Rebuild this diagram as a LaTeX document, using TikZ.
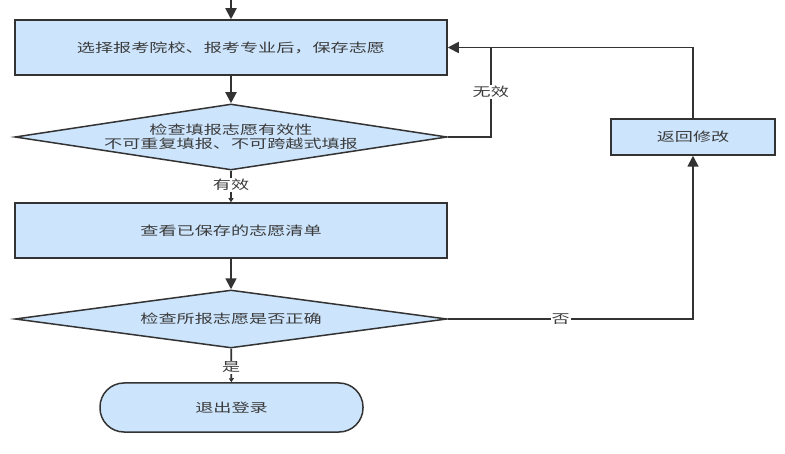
\documentclass[tikz,border=0pt]{standalone}
\usepackage{fontspec}
\newfontfamily\cjk[FakeStretch=1.45]{Noto Sans CJK SC}
\usetikzlibrary{arrows.meta,shapes.geometric,calc}
\definecolor{boxfill}{RGB}{204,228,252}
\definecolor{edge}{RGB}{51,51,51}
\definecolor{txt}{RGB}{60,60,60}
\begin{document}
\begin{tikzpicture}[x=1pt,y=-1pt,
  every node/.style={font=\cjk\fontsize{12.5pt}{14pt}\selectfont, text=txt},
  procbox/.style={draw=edge, line width=1.5pt, fill=boxfill, rectangle, inner sep=0pt},
  decis/.style={draw=edge, line width=1.5pt, fill=boxfill, diamond, inner sep=0pt, shape aspect=6},
  termbox/.style={draw=edge, line width=1.5pt, fill=boxfill, rectangle, rounded corners=24pt, inner sep=0pt},
  arr/.style={draw=edge, line width=1.8pt, -{Triangle[length=11pt,width=11pt]}},
  thin/.style={draw=edge, line width=1.8pt},
  smallarr/.style={draw=edge, line width=1.8pt, -{Triangle[length=4pt,width=5pt]}},
  lab/.style={fill=white, inner sep=1pt}]
\useasboundingbox (0,0) rectangle (785,454);
\coordinate (top) at (231,0);
\node[procbox, minimum width=432pt, minimum height=55pt] (b1) at (231,47.5) {选择报考院校、报考专业后，保存志愿};
\node[decis, minimum width=432pt, minimum height=66pt, label={[align=center, text=txt]center:检查填报志愿有效性\\不可重复填报、不可跨越式填报}] (d1) at (231,137) {};
\node[procbox, minimum width=432pt, minimum height=55pt] (b2) at (231,230.5) {查看已保存的志愿清单};
\node[decis, minimum width=432pt, minimum height=58pt, label={[text=txt]center:检查所报志愿是否正确}] (d2) at (231,319) {};
\node[termbox, minimum width=263pt, minimum height=49pt] (t) at (231.5,407.5) {退出登录};
\node[procbox, minimum width=164pt, minimum height=36pt] (r) at (693,137) {返回修改};
\path (d1.east) ++(43,0) coordinate (jb);
\coordinate (jt) at (jb |- b1.east);
\draw[arr] (top) -- (b1);
\draw[arr] (b1) -- (d1);
\draw[smallarr] (d1) -- node[lab, pos=0.45]{有效} (b2);
\draw[arr] (b2) -- (d2);
\draw[smallarr] (d2) -- node[lab, pos=0.55]{是} (t);
\draw[thin] (d1.east) -| node[lab, pos=0.75]{无效} (jt);
\draw[arr] (d2.east) -| node[lab, pos=0.23]{否} (r.south);
\draw[arr] (r.north) |- (b1.east);
\end{tikzpicture}
\end{document}
